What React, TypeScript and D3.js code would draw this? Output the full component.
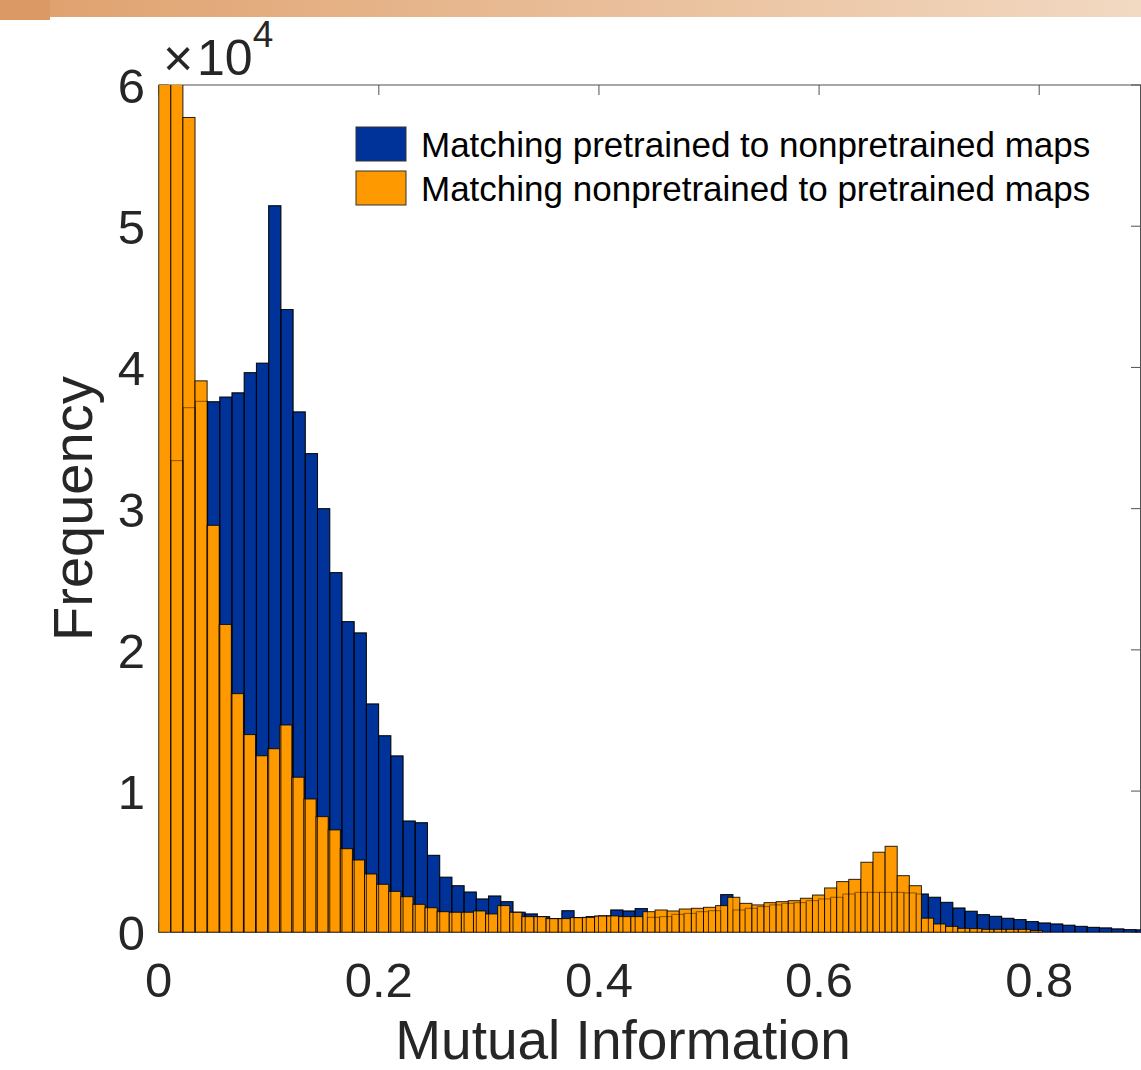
import React from "react";
import * as d3 from "d3";

// histogram counts
const blueBinWidth = 0.0111;
const blueCounts = [
  0, 33400, 37150, 37600, 37570, 37900, 38200, 39630, 40300, 51450,
  44100, 36850, 33900, 30000, 25470, 22000, 21200, 16170, 13920, 12490,
  7880, 7760, 5450, 3900, 3300, 2850, 2360, 2570, 2170, 1420,
  1300, 1110, 970, 1530, 1040, 1110, 1160, 1580, 1510, 1680,
  1060, 1110, 1270, 1340, 1460, 1530, 2670, 1580, 1700, 1820,
  1940, 2050, 2100, 2240, 2360, 2480, 2710, 2830, 2830, 2830,
  2830, 2790, 2710, 2480, 2120, 1720, 1490, 1250, 1130, 990,
  900, 760, 660, 590, 500, 420, 350, 310, 240, 190, 170,
];

const orangeBinWidth = 0.011;
const orangeCounts = [
  66000, 63000, 57700, 39050, 28820, 21800, 16900, 14000, 12500, 13000,
  14680, 10980, 9440, 8190, 7250, 5920, 5120, 4130, 3400, 2900,
  2520, 1980, 1740, 1460, 1420, 1420, 1510, 1300, 1890, 1420,
  1110, 1110, 970, 970, 1040, 1060, 1160, 1160, 1110, 1110,
  1460, 1580, 1510, 1650, 1700, 1770, 1890, 2480, 2050, 1940,
  2100, 2170, 2240, 2410, 2640, 3140, 3590, 3750, 4960, 5670,
  6090, 4010, 3300, 1000, 590, 420, 280, 260, 210, 210,
  210, 210, 120,
];

const seriesNames = [
  "Matching pretrained to nonpretrained maps",
  "Matching nonpretrained to pretrained maps",
];
const xTicks = [0, 0.2, 0.4, 0.6, 0.8];
const xTickLabels = ["0", "0.2", "0.4", "0.6", "0.8"];
const yTicks = [0, 10000, 20000, 30000, 40000, 50000, 60000];
const yTickLabels = ["0", "1", "2", "3", "4", "5", "6"];

const BLUE = "#003399";
const ORANGE = "#FF9900";
const INK = "#262626";
const FONT = "'Liberation Sans', Arial, Helvetica, sans-serif";

const App = () => {
  const width = 1141;
  const height = 1070;
  const left = 158.7;
  const right = 1141;
  const top = 85;
  const bottom = 932.3;

  const x = d3.scaleLinear().domain([0, 0.8925]).range([left, right]);
  const y = d3.scaleLinear().domain([0, 60000]).range([bottom, top]);

  const toBins = (counts, w) =>
    counts.map((c, i) => ({ x0: i * w, x1: (i + 1) * w, c })).filter((d) => d.c > 0);
  const blueBins = toBins(blueCounts, blueBinWidth);
  const orangeBins = toBins(orangeCounts, orangeBinWidth);

  const bar = (d, key, fill, stroke, op) => (
    <rect
      key={key}
      x={x(d.x0)}
      y={y(d.c)}
      width={x(d.x1) - x(d.x0)}
      height={y(0) - y(d.c)}
      fill={fill}
      stroke={stroke}
      strokeOpacity={op}
      strokeWidth={1}
    />
  );

  return (
    <svg
      width={width}
      height={height}
      style={{ position: "absolute", left: 0, top: 0, background: "#fff" }}
      fontFamily={FONT}
    >
      <defs>
        <linearGradient id="strip" x1="0" x2="1" y1="0" y2="0">
          <stop offset="0" stopColor="#DFA06C" />
          <stop offset="1" stopColor="#F2D9C2" />
        </linearGradient>
        <clipPath id="plot">
          <rect x={left} y={top} width={right - left} height={bottom - top} />
        </clipPath>
      </defs>
      <rect x={0} y={0} width={width} height={height} fill="#fff" />
      <rect x={0} y={0} width={width} height={17} fill="url(#strip)" />
      <rect x={0} y={0} width={50} height={20} fill="#DB9966" />

      {/* axes box and ticks */}
      <g stroke={INK} strokeWidth={1} fill="none" opacity={0.8}>
        <line x1={left} x2={right} y1={top} y2={top} />
        <line x1={left} x2={right} y1={bottom} y2={bottom} />
        <line x1={left} x2={left} y1={top} y2={bottom} />
        <line x1={right - 0.5} x2={right - 0.5} y1={top} y2={bottom} />
        {xTicks.map((t) => (
          <g key={"xt" + t}>
            <line x1={x(t)} x2={x(t)} y1={bottom} y2={bottom - 10} />
            <line x1={x(t)} x2={x(t)} y1={top} y2={top + 10} />
          </g>
        ))}
        {yTicks.map((t) => (
          <g key={"yt" + t}>
            <line x1={left} x2={left + 10} y1={y(t)} y2={y(t)} />
            <line x1={right - 10} x2={right} y1={y(t)} y2={y(t)} />
          </g>
        ))}
      </g>

      <g clipPath="url(#plot)">
        {blueBins.map((d, i) => bar(d, "b" + i, BLUE, "#000", 0.85))}
        {orangeBins.map((d, i) => bar(d, "o" + i, ORANGE, "#000", 0.85))}
        {/* blue outlines showing through the orange bars */}
        {blueBins.map((d, i) => bar(d, "bo" + i, "none", "#000", 0.45))}
      </g>

      {/* tick labels */}
      <g fill={INK} fontSize={49}>
        {xTicks.map((t, i) => (
          <text key={"xl" + t} x={x(t)} y={997} textAnchor="middle">
            {xTickLabels[i]}
          </text>
        ))}
        {yTicks.map((t, i) => (
          <text key={"yl" + t} x={145} y={y(t) + 18} textAnchor="end">
            {yTickLabels[i]}
          </text>
        ))}
      </g>
      <g fill={INK}>
        <text x={163} y={76} fontSize={52} fontWeight={300}>×</text>
        <text x={197} y={75} fontSize={50}>
          10
          <tspan dy={-28} fontSize={37}>4</tspan>
        </text>
      </g>

      {/* axis labels */}
      <text x={623} y={1059} textAnchor="middle" fontSize={55} fill={INK}>
        Mutual Information
      </text>
      <text
        transform={`translate(92, ${(top + bottom) / 2}) rotate(-90)`}
        textAnchor="middle"
        fontSize={56}
        fill={INK}
      >
        Frequency
      </text>

      {/* legend */}
      <g>
        {[BLUE, ORANGE].map((c, i) => (
          <g key={"lg" + i}>
            <rect x={356} y={127 + i * 44} width={50} height={34} fill={c} stroke="#333" strokeWidth={1} />
            <text x={421} y={156.5 + i * 44} fontSize={35} fill="#000">
              {seriesNames[i]}
            </text>
          </g>
        ))}
      </g>
    </svg>
  );
};

export default App;
